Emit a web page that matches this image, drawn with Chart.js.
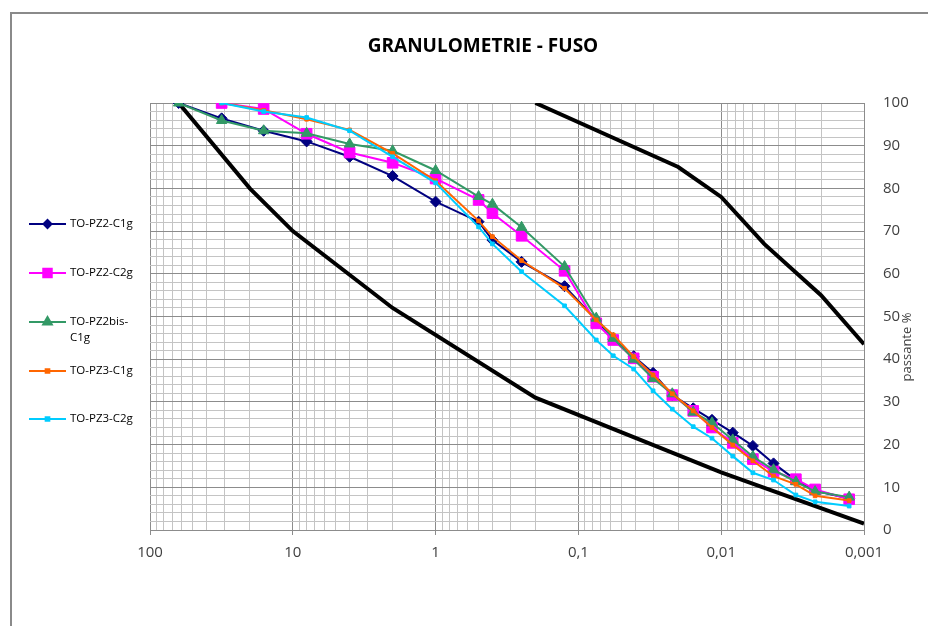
<!DOCTYPE html>
<html><head><meta charset="utf-8">
<script src="https://cdn.jsdelivr.net/npm/chart.js@4.4.1/dist/chart.umd.min.js"></script>
<style>html,body{margin:0;padding:0;background:#fff}#wrap{width:928px;height:626px;position:relative}</style>
</head><body><div id="wrap"><canvas id="c"></canvas></div>
<script>
// grain sizes (mm)
const sizes = [63, 31.5, 16, 8, 4, 2, 1, 0.5, 0.4, 0.25, 0.125, 0.075, 0.057, 0.041, 0.030, 0.022, 0.0157, 0.0116, 0.0083, 0.0060, 0.0043, 0.0030, 0.0022, 0.00127];
// passing % per sample
const pz2c1g   = [100, 96.4, 93.5, 91.0, 87.4, 82.9, 76.9, 72.2, 67.9, 62.8, 57.1, 49.2, 44.7, 40.7, 36.8, 31.6, 28.5, 25.8, 22.8, 19.7, 15.6, 11.7, 9.2, 7.4];
const pz2c2g   = [null, 100, 98.6, 92.8, 88.4, 86.0, 82.3, 77.3, 74.2, 68.9, 60.7, 48.4, 44.5, 40.2, 35.9, 31.6, 27.9, 24.0, 20.4, 16.6, 13.7, 11.9, 9.5, 7.2];
const pz2bisc1g= [100, 95.9, 93.5, 92.9, 90.4, 88.8, 84.2, 78.1, 76.3, 70.9, 61.7, 49.6, 44.9, 40.0, 35.5, 31.9, 27.6, 25.1, 21.1, 17.2, 14.1, 11.3, 9.0, 7.7];
const pz3c1g   = [null, 100, 98.3, 96.2, 93.7, 88.2, 81.8, 72.4, 68.7, 63.1, 56.6, 49.2, 45.7, 40.6, 36.3, 31.9, 27.9, 24.0, 19.9, 16.2, 12.6, 10.7, 8.0, 6.9];
const pz3c2g   = [null, 100, 98.0, 96.6, 93.5, 87.4, 81.3, 71.0, 67.0, 60.5, 52.5, 44.5, 40.8, 37.7, 32.6, 28.3, 24.2, 21.5, 17.3, 13.4, 11.7, 8.2, 6.6, 5.6];
// envelope (fuso)
const fusoLowX  = [63, 20, 10, 2, 0.2, 0.01, 0.001];
const fusoLowY  = [100, 80, 70, 52, 31, 13.5, 1.5];
const fusoHighX = [0.2, 0.02, 0.01, 0.005, 0.002, 0.001];
const fusoHighY = [100, 85, 78, 67, 55, 43.5];
// ticks
const xTickValues = [100, 10, 1, 0.1, 0.01, 0.001];
const xTickLabels = ['100', '10', '1', '0,1', '0,01', '0,001'];
const yTickValues = [0, 10, 20, 30, 40, 50, 60, 70, 80, 90, 100];
const seriesNames = ['TO-PZ2-C1g', 'TO-PZ2-C2g', 'TO-PZ2bis-C1g', 'TO-PZ3-C1g', 'TO-PZ3-C2g'];
const legendLines = [['TO-PZ2-C1g'], ['TO-PZ2-C2g'], ['TO-PZ2bis-', 'C1g'], ['TO-PZ3-C1g'], ['TO-PZ3-C2g']];

const FONT = "'Open Sans', 'Liberation Sans', sans-serif";
const pts = (xs, ys) => xs.map((x, i) => ({x: x, y: ys[i]})).filter(p => p.y !== null);
const isDecade = v => Math.abs(Math.log10(v) - Math.round(Math.log10(v))) < 1e-6;

const styles = [
  {color: '#000080', style: 'rectRot', r: 5.5, lr: 4},
  {color: '#FF00FF', style: 'rect', r: 7.5, lr: 6},
  {color: '#339966', style: 'triangle', r: 6, lr: 5},
  {color: '#FF6600', style: 'rect', r: 2.6, lr: 2.6},
  {color: '#00CCFF', style: 'rect', r: 2.6, lr: 2.6}
];
const seriesVals = [pz2c1g, pz2c2g, pz2bisc1g, pz3c1g, pz3c2g];

const datasets = [];
seriesVals.forEach((vals, i) => {
  const s = styles[i];
  datasets.push({
    label: seriesNames[i], data: pts(sizes, vals),
    borderColor: s.color, backgroundColor: s.color, borderWidth: 2,
    pointStyle: s.style, pointRadius: s.r, pointBorderWidth: 1,
    pointBorderColor: s.color, pointBackgroundColor: s.color,
    tension: 0, order: 5 - i + 2
  });
});
datasets.push({label: 'fuso inf', data: pts(fusoLowX, fusoLowY), borderColor: '#000', borderWidth: 4, pointRadius: 0, order: 20});
datasets.push({label: 'fuso sup', data: pts(fusoHighX, fusoHighY), borderColor: '#000', borderWidth: 4, pointRadius: 0, order: 20});

const deco = {
  id: 'deco',
  beforeDraw(chart) {
    const ctx = chart.ctx;
    ctx.save();
    ctx.fillStyle = '#fff';
    ctx.fillRect(0, 0, chart.width, chart.height);
    ctx.strokeStyle = '#8a8a8a';
    ctx.lineWidth = 2;
    ctx.strokeRect(11, 13, 940, 640);
    ctx.restore();
  },
  afterDraw(chart) {
    const ctx = chart.ctx;
    ctx.save();
    // title
    ctx.fillStyle = '#000';
    ctx.font = 'bold 19px ' + FONT;
    ctx.textAlign = 'center';
    ctx.textBaseline = 'middle';
    ctx.fillText('GRANULOMETRIE - FUSO', 483, 47);
    // y title
    ctx.save();
    ctx.translate(907, 347);
    ctx.rotate(-Math.PI / 2);
    ctx.font = '13px ' + FONT;
    ctx.fillStyle = '#404040';
    ctx.fillText('passante %', 0, 0);
    ctx.restore();
    // legend
    const ys = [224, 273, 322, 371, 419];
    ctx.font = '11.5px ' + FONT;
    ctx.textAlign = 'left';
    ctx.textBaseline = 'middle';
    legendLines.forEach((lines, i) => {
      const s = styles[i];
      const y = ys[i];
      ctx.strokeStyle = s.color;
      ctx.lineWidth = 2;
      ctx.beginPath(); ctx.moveTo(29, y); ctx.lineTo(66, y); ctx.stroke();
      ctx.fillStyle = s.color;
      Chart.helpers.drawPoint(ctx, {pointStyle: s.style, radius: s.lr, rotation: 0, borderWidth: 1}, 47.5, y);
      ctx.fill();
      ctx.fillStyle = '#000';
      lines.forEach((t, k) => ctx.fillText(t, 70, y + k * 16));
    });
    ctx.restore();
  }
};

new Chart(document.getElementById('c'), {
  type: 'line',
  data: {datasets: datasets},
  options: {
    responsive: true, maintainAspectRatio: false, animation: false,
    layout: {padding: {left: 150, top: 103, right: 0, bottom: 0}},
    plugins: {legend: {display: false}, title: {display: false}, tooltip: {enabled: false}},
    scales: {
      x: {
        type: 'logarithmic', reverse: true, min: 0.001, max: 100,
        afterBuildTicks(scale) {
          const t = [];
          for (let e = -3; e <= 1; e++) for (let m = 1; m <= 9; m++) t.push({value: +(m * Math.pow(10, e)).toPrecision(6)});
          t.push({value: 100});
          scale.ticks = t;
        },
        afterFit(scale) { scale.height = 96; },
        ticks: {
          autoSkip: false, maxRotation: 0, padding: 9, color: '#404040',
          font: {family: FONT, size: 15},
          callback(v) { const i = xTickValues.findIndex(d => Math.abs(d - v) / d < 1e-6); return i >= 0 ? xTickLabels[i] : ''; }
        },
        grid: {
          color: c => (c.tick && isDecade(c.tick.value)) ? '#8c8c8c' : '#c4c4c4',
          tickColor: c => (c.tick && isDecade(c.tick.value)) ? '#8c8c8c' : 'rgba(0,0,0,0)',
          tickLength: 5, lineWidth: 1
        },
        border: {color: '#8c8c8c'}
      },
      y: {
        position: 'right', min: 0, max: 100,
        afterFit(scale) { scale.width = 64; },
        ticks: {
          stepSize: 2, autoSkip: false, padding: 19, color: '#404040',
          font: {family: FONT, size: 15},
          callback(v) { return yTickValues.includes(v) ? String(v) : ''; }
        },
        grid: {
          color: c => (c.tick && c.tick.value % 10 === 0) ? '#8c8c8c' : '#c4c4c4',
          drawTicks: false, lineWidth: 1
        },
        border: {color: '#8c8c8c'}
      }
    }
  },
  plugins: [deco]
});
</script></body></html>
